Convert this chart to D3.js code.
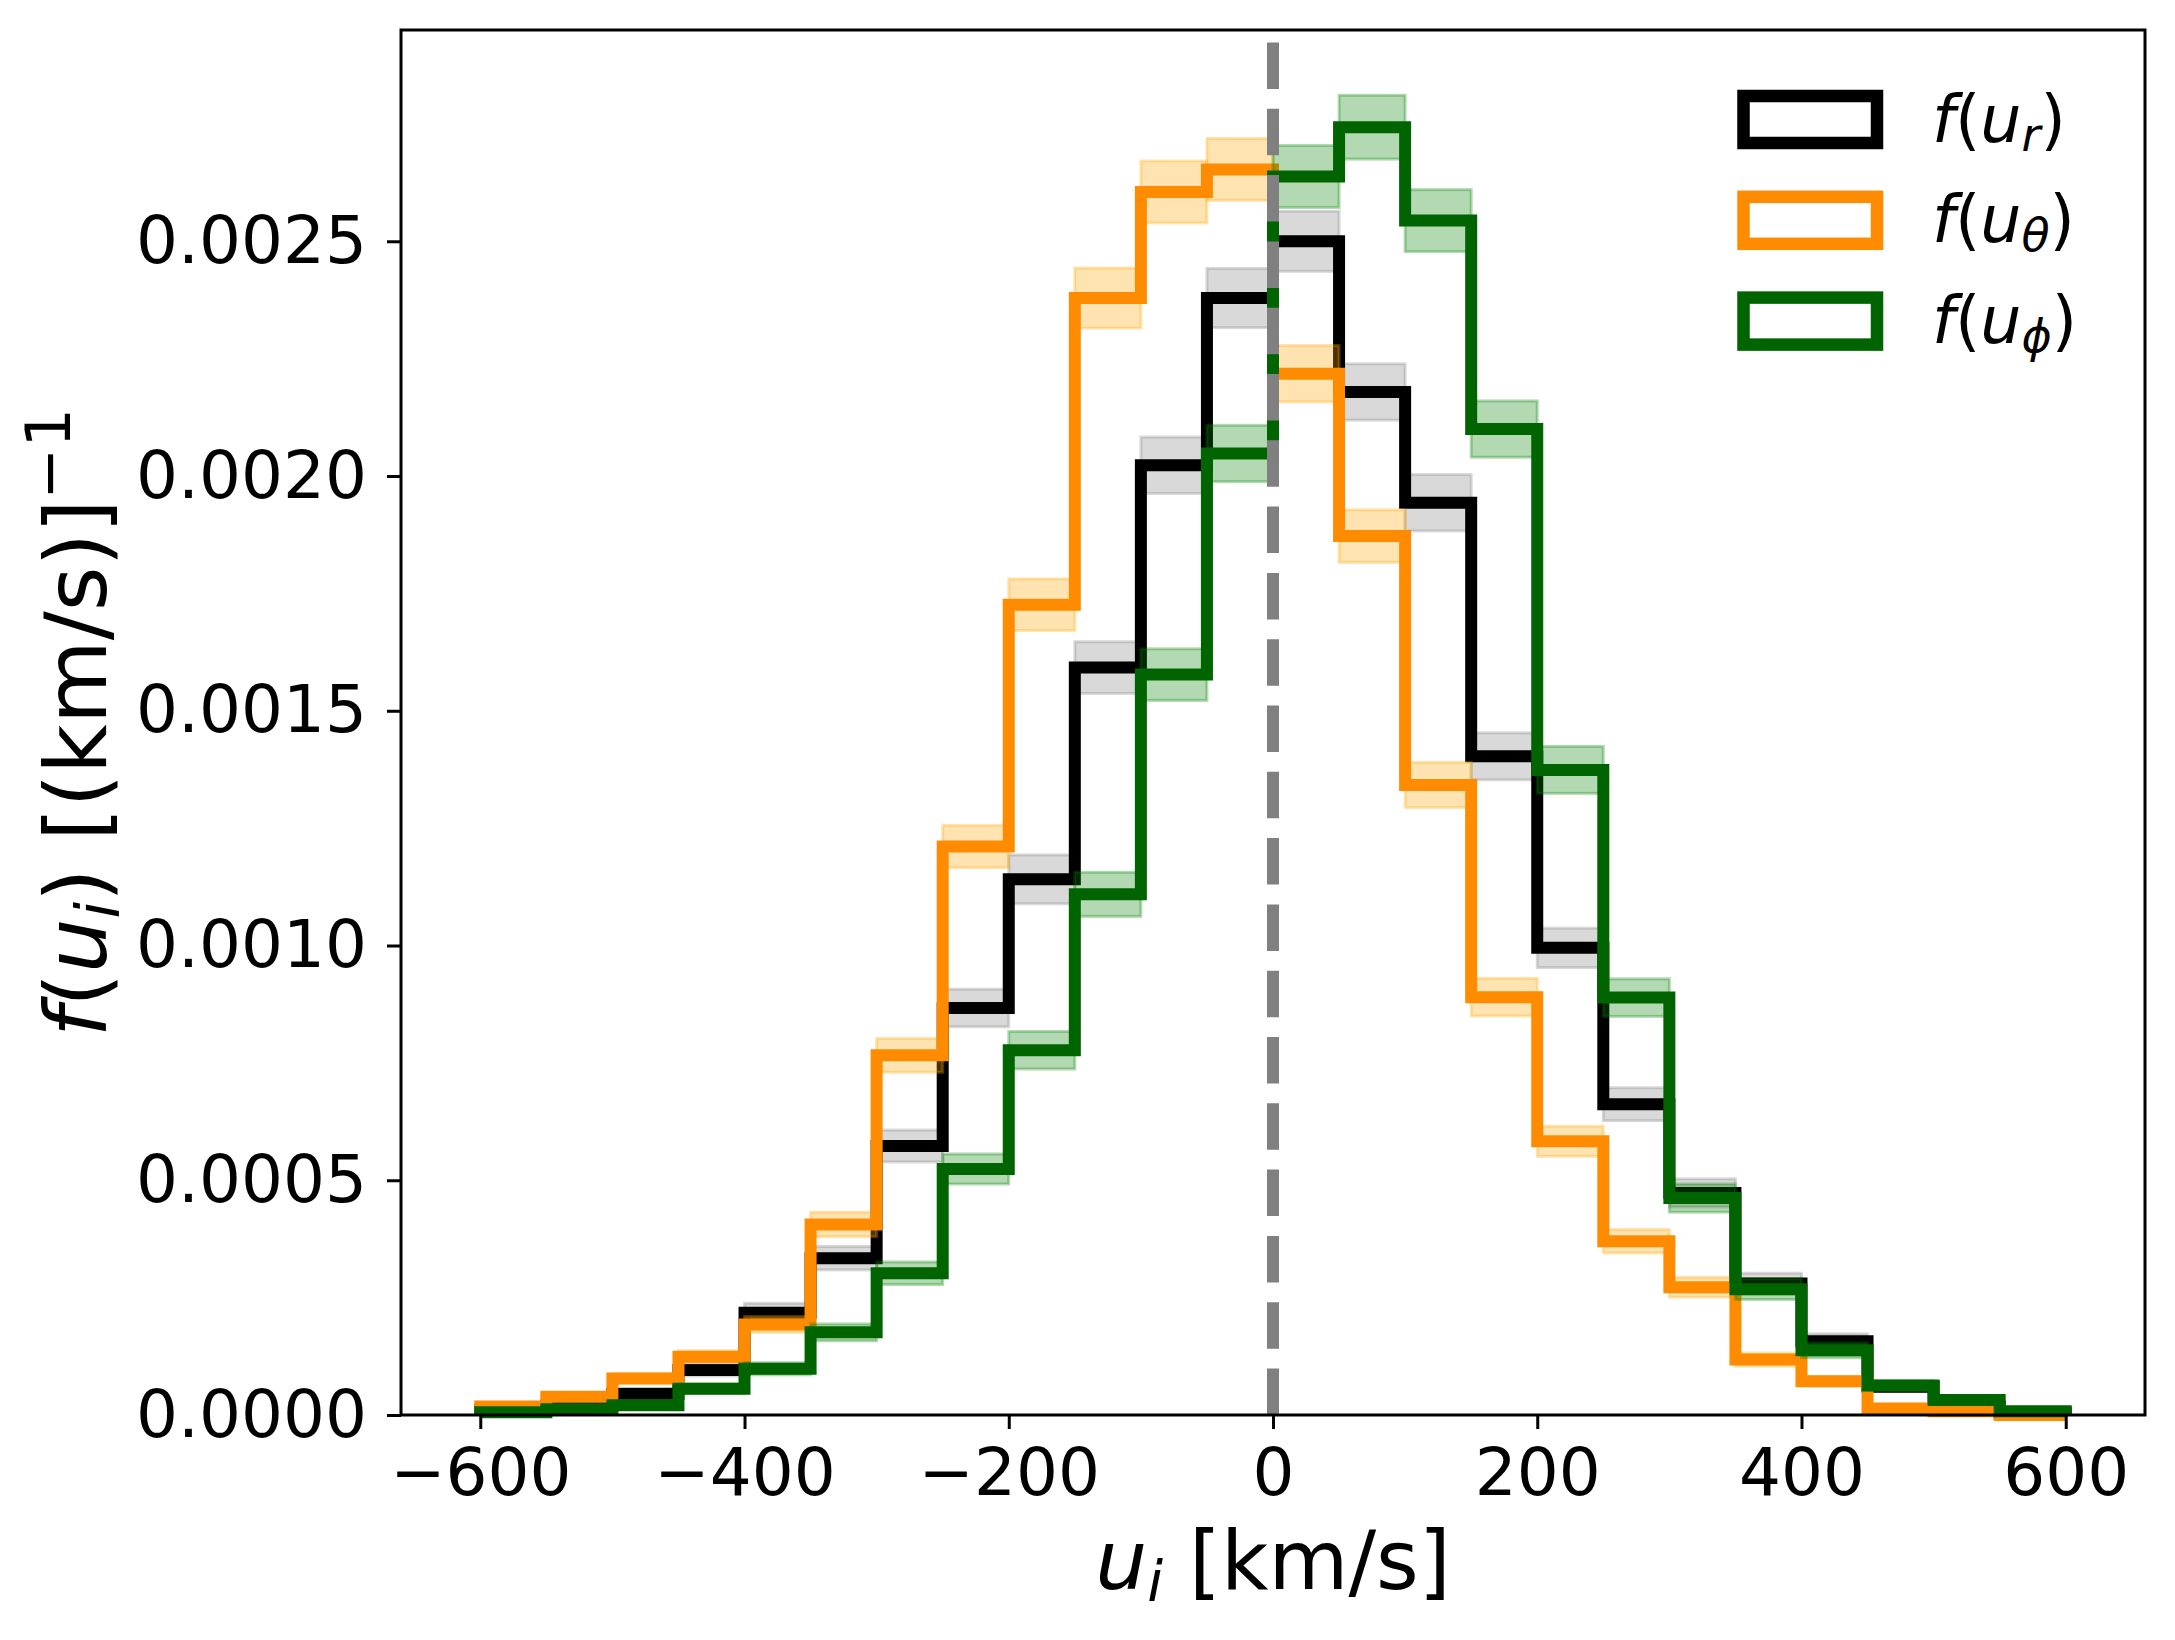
<!DOCTYPE html>
<html>
<head>
<meta charset="utf-8">
<script src="https://cdn.jsdelivr.net/npm/d3@7"></script>
<style>
  body { margin: 0; background: #fff; }
  svg { display: block; font-family: "DejaVu Sans", sans-serif; }
</style>
</head>
<body>
<svg id="chart" width="2175" height="1640"></svg>
<script>
// bin edges [km/s]
const binEdges = [-600, -550, -500, -450, -400, -350, -300, -250, -200, -150, -100, -50, 0,
  50, 100, 150, 200, 250, 300, 350, 400, 450, 500, 550, 600];

// f(u_r)
const fUr = [0.00001, 0.00002, 0.000045, 0.000096, 0.000218, 0.000334, 0.000573, 0.000867,
  0.001141, 0.001592, 0.002023, 0.002379, 0.0025, 0.002179, 0.001943, 0.001403, 0.000995,
  0.000662, 0.000473, 0.00028, 0.000157, 0.00006, 0.000018, 0.000004];
const fUrErr = [0.000004, 0.000006, 0.000009, 0.000013, 0.00002, 0.000025, 0.000034, 0.00004,
  0.000052, 0.000055, 0.00006, 0.000063, 0.000064, 0.00006, 0.00006, 0.00005, 0.000042,
  0.000035, 0.00003, 0.000022, 0.000016, 0.00001, 0.000005, 0.000002];

// f(u_theta)
const fUth = [0.000018, 0.000039, 0.000078, 0.000124, 0.000193, 0.000406, 0.000766, 0.001211,
  0.001726, 0.002379, 0.002605, 0.002653, 0.002218, 0.001872, 0.001342, 0.00089, 0.000583,
  0.00037, 0.000272, 0.000118, 0.000072, 0.000014, 0.000008, 0];
const fUthErr = [0.000005, 0.000008, 0.00001, 0.000013, 0.000017, 0.000026, 0.000036, 0.000045,
  0.000055, 0.000064, 0.000066, 0.000066, 0.00006, 0.000056, 0.000048, 0.00004, 0.000032,
  0.000025, 0.000021, 0.000014, 0.00001, 0.000005, 0.000003, 0];

// f(u_phi)
const fUph = [0.000006, 0.000012, 0.000021, 0.000056, 0.0000985, 0.000176, 0.000302, 0.000524,
  0.000777, 0.001109, 0.001577, 0.002048, 0.002638, 0.002743, 0.002544, 0.0021, 0.001374,
  0.000889, 0.000462, 0.000268, 0.000138, 0.000063, 0.000032, 0.000008];
const fUphErr = [0.000003, 0.000004, 0.000006, 0.00001, 0.000013, 0.000018, 0.000024, 0.000032,
  0.00004, 0.000047, 0.000055, 0.00006, 0.000066, 0.000068, 0.000066, 0.00006, 0.00005,
  0.00004, 0.00003, 0.000022, 0.000016, 0.00001, 0.000007, 0.000004];

const subscripts = ["r", "\u03B8", "\u03D5"];
const lineColors = ["#000000", "#ff8c00", "#006400"];
const bandColors = ["#808080", "#ffa500", "#008000"];

const xTicks = [-600, -400, -200, 0, 200, 400, 600];
const yTicks = [0, 0.0005, 0.001, 0.0015, 0.002, 0.0025];

const series = [
  { values: fUr, err: fUrErr },
  { values: fUth, err: fUthErr },
  { values: fUph, err: fUphErr }
];

const margins = { left: 401, right: 30, top: 30, bottom: 225 };
const svgElement = document.getElementById("chart");
const svg = d3.select(svgElement);
const width = 2175 - margins.left - margins.right;
const height = 1640 - margins.top - margins.bottom;

const x = d3.scaleLinear().domain([-660, 660]).range([0, width]);
const y = d3.scaleLinear().domain([0, 0.00295]).range([height, 0]);

const g = svg.append("g").attr("transform", `translate(${margins.left}, ${margins.top})`);

const clip = svg.append("defs").append("clipPath").attr("id", "plot-clip");
clip.append("rect").attr("x", 0).attr("y", 0).attr("width", width).attr("height", height + 8);

const plot = g.append("g").attr("clip-path", "url(#plot-clip)");

// step outline, like histtype="step"
const stepLine = d3.line().x((d) => x(d[0])).y((d) => y(d[1]));

series.forEach((s, i) => {
  // error bands
  plot.append("g")
    .selectAll("rect")
    .data(s.values.map((v, j) => ({ x0: binEdges[j], x1: binEdges[j + 1], lo: v - s.err[j], hi: v + s.err[j] })))
    .join("rect")
    .attr("x", (d) => x(d.x0))
    .attr("width", (d) => x(d.x1) - x(d.x0))
    .attr("y", (d) => y(d.hi))
    .attr("height", (d) => y(d.lo) - y(d.hi))
    .attr("fill", bandColors[i])
    .attr("fill-opacity", 0.3)
    .attr("stroke", bandColors[i])
    .attr("stroke-opacity", 0.3)
    .attr("stroke-width", 3);

  const pts = [[binEdges[0], 0]];
  s.values.forEach((v, j) => {
    pts.push([binEdges[j], v]);
    pts.push([binEdges[j + 1], v]);
  });
  pts.push([binEdges[binEdges.length - 1], 0]);

  plot.append("path")
    .datum(pts)
    .attr("fill", "none")
    .attr("stroke", lineColors[i])
    .attr("stroke-width", 12)
    .attr("stroke-linejoin", "miter")
    .attr("stroke-linecap", "butt")
    .attr("d", stepLine);
});

// vertical dashed line at zero
plot.append("line")
  .attr("x1", x(0)).attr("x2", x(0))
  .attr("y1", y(0)).attr("y2", 0)
  .attr("stroke", "#808080")
  .attr("stroke-width", 12)
  .attr("stroke-dasharray", "46.5 19.8");

// axes
const fmtY = (d) => d.toFixed(4);
const fmtX = (d) => (d < 0 ? "\u2212" + Math.abs(d) : "" + d);

const yAxis = g.append("g")
  .call(d3.axisLeft(y).tickValues(yTicks).tickFormat(fmtY).tickSize(14).tickPadding(20).tickSizeOuter(0));
const xAxis = g.append("g")
  .attr("transform", `translate(0, ${height})`)
  .call(d3.axisBottom(x).tickValues(xTicks).tickFormat(fmtX).tickSize(14).tickPadding(19).tickSizeOuter(0));

[xAxis, yAxis].forEach((a) => {
  a.select(".domain").remove();
  a.selectAll(".tick line").attr("stroke", "#000").attr("stroke-width", 3);
  a.selectAll(".tick text")
    .attr("fill", "#000")
    .style("font-family", "'DejaVu Sans', sans-serif")
    .style("font-size", "66px");
});

// frame
g.append("rect")
  .attr("x", 0).attr("y", 0)
  .attr("width", width).attr("height", height)
  .attr("fill", "none")
  .attr("stroke", "#000")
  .attr("stroke-width", 3);

// x label
const xl = svg.append("text")
  .attr("x", margins.left + width / 2)
  .attr("y", 1589)
  .attr("text-anchor", "middle")
  .style("font-size", "82px")
  .attr("fill", "#000");
xl.append("tspan").style("font-style", "italic").text("u");
xl.append("tspan").style("font-style", "italic").style("font-size", "57px").attr("dy", 12).text("i");
xl.append("tspan").attr("dy", -12).text(" [km/s]");

// y label
const yl = svg.append("text")
  .attr("transform", `translate(106, ${margins.top + height / 2}) rotate(-90)`)
  .attr("text-anchor", "middle")
  .style("font-size", "86px")
  .attr("fill", "#000");
yl.append("tspan").style("font-style", "italic").text("f");
yl.append("tspan").text("(");
yl.append("tspan").style("font-style", "italic").text("u");
yl.append("tspan").style("font-style", "italic").style("font-size", "60px").attr("dy", 13).text("i");
yl.append("tspan").attr("dy", -13).text(") [(km/s)]");
yl.append("tspan").style("font-size", "62px").attr("dy", -36).text("\u22121");

// legend
const legend = svg.append("g");
subscripts.forEach((sub, i) => {
  const rowY = 119.5 + i * 100.8;
  legend.append("rect")
    .attr("x", 1743.5).attr("y", rowY - 23.5)
    .attr("width", 133.5).attr("height", 47)
    .attr("fill", "none")
    .attr("stroke", lineColors[i])
    .attr("stroke-width", 12.5);
  const t = legend.append("text")
    .attr("x", 1932)
    .attr("y", rowY + 22)
    .style("font-size", "65px")
    .attr("fill", "#000");
  t.append("tspan").style("font-style", "italic").text("f");
  t.append("tspan").text("(");
  t.append("tspan").style("font-style", "italic").text("u");
  t.append("tspan").style("font-style", "italic").style("font-size", "46px").attr("dy", 9).text(sub);
  t.append("tspan").attr("dy", -9).text(")");
});
</script>
</body>
</html>
